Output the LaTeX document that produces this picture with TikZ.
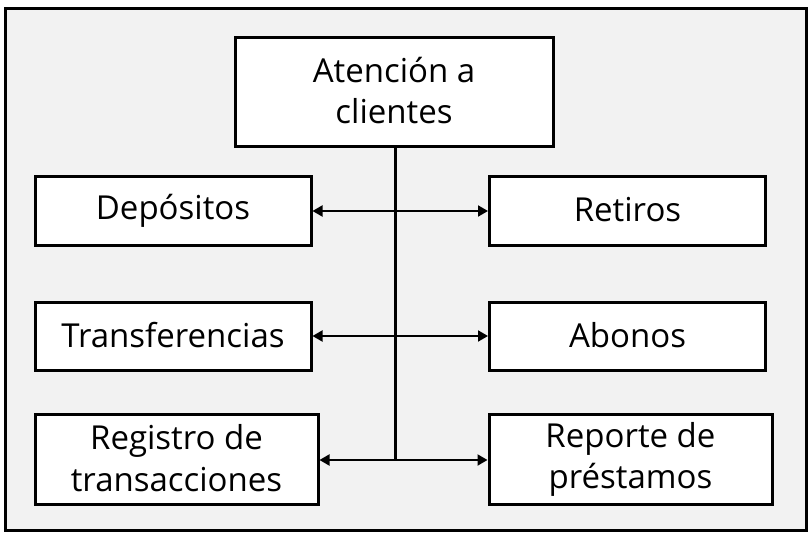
\documentclass[tikz,border=0pt]{standalone}
\usepackage{fontspec}
\setmainfont{Open Sans}
\usetikzlibrary{arrows.meta}
\definecolor{bgfill}{HTML}{F2F2F2}
\newcommand{\lnstrut}{\rule[-3.4pt]{0pt}{29.4pt}}
\begin{document}
\begin{tikzpicture}[x=1pt,y=-1pt,
  box/.style={draw=black,line width=3pt,fill=white,inner sep=0pt,align=center,
    font=\fontsize{33}{41.5}\selectfont},
  conn/.style={line width=2pt,{Triangle[length=10pt,width=11pt]}-{Triangle[length=10pt,width=11pt]}},
  trunk/.style={line width=3pt}]
\useasboundingbox (0,0) rectangle (812,538);
\draw[line width=3pt,fill=bgfill] (5,8) rectangle (806,530);
\node[box,minimum width=318pt,minimum height=109pt] (top) at (394,91.5) {\lnstrut Atención a\\\lnstrut clientes};
\node[box,minimum width=276pt,minimum height=69pt] (dep) at (173,210.5) {\lnstrut Depósitos};
\node[box,minimum width=276pt,minimum height=69pt] (ret) at (627.5,210.5) {\lnstrut Retiros};
\node[box,minimum width=276pt,minimum height=68pt] (tra) at (173,336) {\lnstrut Transferencias};
\node[box,minimum width=276pt,minimum height=68pt] (abo) at (627.5,336) {\lnstrut Abonos};
\node[box,minimum width=283pt,minimum height=90pt] (reg) at (176.5,459) {\lnstrut Registro de\\\lnstrut transacciones};
\node[box,minimum width=283pt,minimum height=90pt] (rep) at (630.5,459) {\lnstrut Reporte de\\\lnstrut préstamos};
\coordinate (j1) at (395,211);
\coordinate (j2) at (395,336);
\coordinate (j3) at (395,460);
\draw[trunk] (top.south -| j1) -- (j3);
\draw[conn] (dep.east |- j1) -- (ret.west |- j1);
\draw[conn] (tra.east |- j2) -- (abo.west |- j2);
\draw[conn] (reg.east |- j3) -- (rep.west |- j3);
\end{tikzpicture}
\end{document}
